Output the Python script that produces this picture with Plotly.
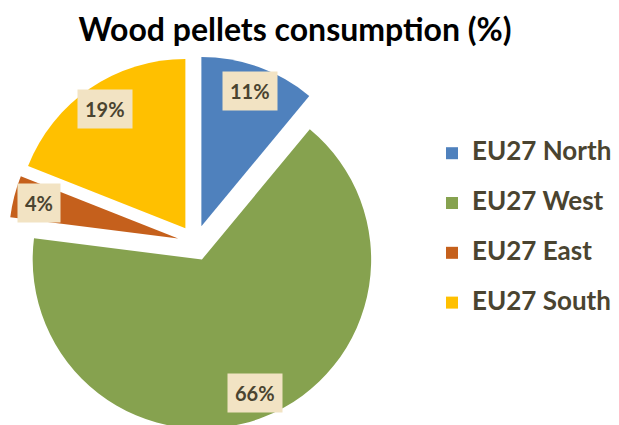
import math
import plotly.graph_objects as go

# data
regions = ['EU27 North', 'EU27 West', 'EU27 East', 'EU27 South']
shares = [11, 66, 4, 19]
colors = ['#4f81bd', '#86a24f', '#c5601c', '#ffc000']

# layout constants
W, H = 619, 425
M_L, M_R, M_T, M_B = 0, 0, 48, 3
DOM_X = [0.0006, 0.6048]
PULL = 0.105
LABEL_POS = 0.85  # label distance from slice tip, as fraction of radius

# two-line legend entries (blank 2nd line) to get the wide row spacing
legend_names = ['<span style="font-size:26px"><b>%s</b></span><br> ' % n for n in regions]

fig = go.Figure()
fig.add_trace(go.Pie(
    labels=legend_names,
    values=shares,
    marker=dict(colors=colors, line=dict(width=0)),
    pull=[PULL] * len(shares),
    sort=False,
    direction='clockwise',
    rotation=0,
    textinfo='none',
    domain=dict(x=DOM_X, y=[0, 1]),
    hoverinfo='percent',
))

# percent labels in beige boxes, placed along each slice's bisector
plot_w = W - M_L - M_R
plot_h = H - M_T - M_B
r = min(plot_w * (DOM_X[1] - DOM_X[0]), plot_h) / 2 / (1 + PULL)
cx = M_L + plot_w * (DOM_X[0] + DOM_X[1]) / 2
cy = M_T + plot_h / 2
total = sum(shares)
cum = 0
for v in shares:
    mid = (cum + v / 2) / total * 2 * math.pi
    cum += v
    d = (PULL + LABEL_POS) * r
    px = cx + d * math.sin(mid)
    py = cy - d * math.cos(mid)
    fig.add_annotation(
        x=(px - M_L) / plot_w, y=1 - (py - M_T) / plot_h,
        xref='paper', yref='paper', showarrow=False,
        text='<b>%d%%</b>' % round(v / total * 100),
        font=dict(family='Lato', size=20, color='#4a4430'),
        bgcolor='#f2e3c3', borderpad=7,
        xanchor='center', yanchor='middle',
    )

fig.update_layout(
    width=W, height=H,
    margin=dict(l=M_L, r=M_R, t=M_T, b=M_B),
    paper_bgcolor='white', plot_bgcolor='white',
    title=dict(text='<b>Wood pellets consumption (%)</b>',
               x=287 / W, y=1 - 22 / H, xanchor='center', yanchor='middle',
               font=dict(family='Lato', size=32, color='black')),
    legend=dict(x=424 / W, y=0.508, xanchor='left', yanchor='middle',
                font=dict(family='Lato', size=18, color='#4a4430'),
                valign='top', traceorder='normal'),
    showlegend=True,
)

fig.write_html("out.html")
